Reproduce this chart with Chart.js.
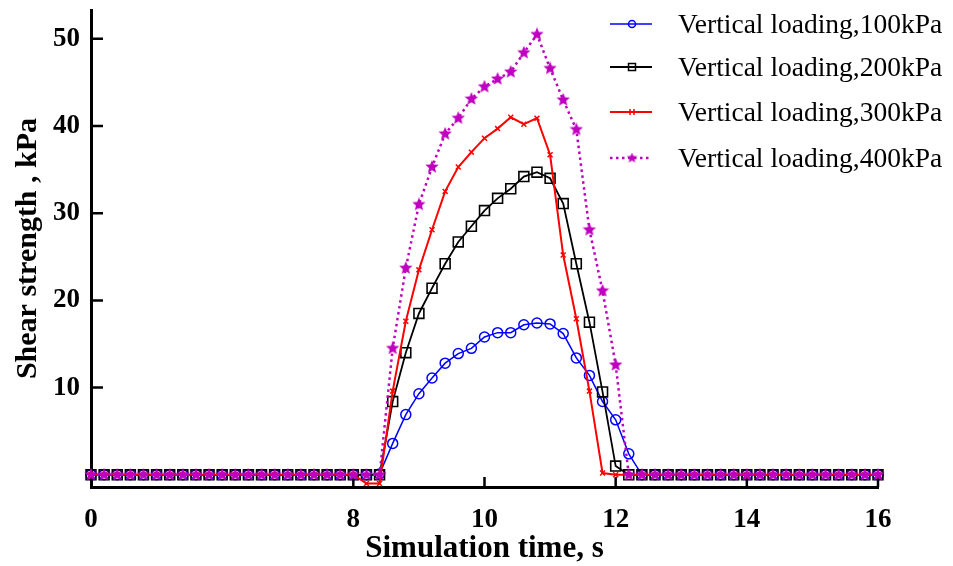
<!DOCTYPE html>
<html>
<head>
<meta charset="utf-8">
<script src="https://cdn.jsdelivr.net/npm/chart.js@4.4.1/dist/chart.umd.min.js"></script>
<style>
  html, body { margin: 0; padding: 0; background: #fff; }
  canvas { display: block; }
</style>
</head>
<body>
<canvas id="chart" width="953" height="566"></canvas>
<script>
const times = [0, 0.4, 0.8, 1.2, 1.6, 2, 2.4, 2.8, 3.2, 3.6, 4, 4.4, 4.8, 5.2, 5.6, 6, 6.4, 6.8, 7.2, 7.6, 8,
  8.2, 8.4, 8.6, 8.8, 9, 9.2, 9.4, 9.6, 9.8, 10, 10.2, 10.4, 10.6, 10.8, 11, 11.2, 11.4, 11.6, 11.8, 12,
  12.2, 12.4, 12.6, 12.8, 13, 13.2, 13.4, 13.6, 13.8, 14, 14.2, 14.4, 14.6, 14.8, 15, 15.2, 15.4, 15.6, 15.8, 16];

const load100 = [0, 0, 0, 0, 0, 0, 0, 0, 0, 0, 0, 0, 0, 0, 0, 0, 0, 0, 0, 0, 0,
  0, 0.1, 3.6, 6.9, 9.3, 11.1, 12.8, 13.9, 14.5, 15.8, 16.3, 16.3, 17.2, 17.4, 17.3, 16.2, 13.4, 11.4, 8.4, 6.3,
  2.4, 0, 0, 0, 0, 0, 0, 0, 0, 0, 0, 0, 0, 0, 0, 0, 0, 0, 0, 0];
const load200 = [0, 0, 0, 0, 0, 0, 0, 0, 0, 0, 0, 0, 0, 0, 0, 0, 0, 0, 0, 0, 0,
  0, 0, 8.4, 14.0, 18.5, 21.4, 24.2, 26.7, 28.5, 30.3, 31.7, 32.8, 34.2, 34.7, 34.0, 31.1, 24.2, 17.5, 9.5, 1.0,
  0, 0, 0, 0, 0, 0, 0, 0, 0, 0, 0, 0, 0, 0, 0, 0, 0, 0, 0, 0];
const load300 = [0, 0, 0, 0, 0, 0, 0, 0, 0, 0, 0, 0, 0, 0, 0, 0, 0, 0, 0, 0, 0,
  -1.0, -1.0, 9.6, 17.6, 23.5, 28.1, 32.5, 35.3, 37.0, 38.6, 39.7, 41.0, 40.2, 40.9, 36.7, 25.2, 17.9, 9.6, 0.2, 0,
  0, 0, 0, 0, 0, 0, 0, 0, 0, 0, 0, 0, 0, 0, 0, 0, 0, 0, 0, 0];
const load400 = [0, 0, 0, 0, 0, 0, 0, 0, 0, 0, 0, 0, 0, 0, 0, 0, 0, 0, 0, 0, 0,
  0, 0, 14.5, 23.7, 31.0, 35.3, 39.1, 40.9, 43.1, 44.5, 45.4, 46.2, 48.4, 50.5, 46.6, 43.0, 39.6, 28.1, 21.1, 12.6,
  0, 0, 0, 0, 0, 0, 0, 0, 0, 0, 0, 0, 0, 0, 0, 0, 0, 0, 0, 0];

const xTickLabels = [0, 8, 10, 12, 14, 16];
const yTickValues = [10, 20, 30, 40, 50];
const seriesNames = ['Vertical loading,100kPa', 'Vertical loading,200kPa', 'Vertical loading,300kPa', 'Vertical loading,400kPa'];

const PURPLE = '#bf00bf';
const SERIF = '"Liberation Serif", "Times New Roman", serif';

function makeStar(size, color) {
  const c = document.createElement('canvas');
  c.width = size;
  c.height = size;
  const g = c.getContext('2d');
  const R = size / 2, r = R * 0.45;
  g.beginPath();
  for (let k = 0; k < 10; k++) {
    const rad = k % 2 ? r : R;
    const a = -Math.PI / 2 + k * Math.PI / 5;
    g.lineTo(R + rad * Math.cos(a), R + rad * Math.sin(a));
  }
  g.closePath();
  g.fillStyle = color;
  g.fill();
  return c;
}
const star = makeStar(14, PURPLE);
const smallStar = makeStar(11, PURPLE);

// ticks pointing into the plot + the legend in the upper right
const overlay = {
  id: 'overlay',
  beforeDatasetsDraw(chart) {
    const ctx = chart.ctx, xs = chart.scales.x, ys = chart.scales.y, area = chart.chartArea;
    ctx.save();
    ctx.strokeStyle = '#000';
    ctx.lineWidth = 2.5;
    ctx.beginPath();
    xTickLabels.forEach(t => {
      if (t === 0) return;
      const px = xs.getPixelForValue(times.indexOf(t));
      ctx.moveTo(px, area.bottom);
      ctx.lineTo(px, area.bottom - 10);
    });
    yTickValues.forEach(v => {
      const py = ys.getPixelForValue(v);
      ctx.moveTo(area.left, py);
      ctx.lineTo(area.left + 12, py);
    });
    ctx.stroke();
    ctx.restore();
  },
  afterDraw(chart) {
    const ctx = chart.ctx;
    const rows = [24, 67, 112, 158];
    ctx.save();
    chart.data.datasets.forEach((ds, i) => {
      const y = rows[i];
      ctx.strokeStyle = ds.borderColor;
      ctx.lineWidth = ds.borderWidth;
      ctx.setLineDash(ds.borderDash || []);
      ctx.beginPath();
      ctx.moveTo(610, y);
      ctx.lineTo(652, y);
      ctx.stroke();
      ctx.setLineDash([]);
      ctx.lineWidth = 1.5;
      ctx.beginPath();
      if (ds.pointStyle === 'circle') {
        ctx.arc(632, y, 3.5, 0, Math.PI * 2);
        ctx.stroke();
      } else if (ds.pointStyle === 'rect') {
        ctx.strokeRect(628.5, y - 3.5, 7, 7);
      } else if (ds.pointStyle === 'crossRot') {
        ctx.moveTo(630, y - 3); ctx.lineTo(630, y + 3);
        ctx.moveTo(634, y - 3); ctx.lineTo(634, y + 3);
        ctx.stroke();
      } else {
        ctx.drawImage(smallStar, 632 - 5.5, y - 5.5);
      }
      ctx.fillStyle = '#000';
      ctx.font = '27.5px ' + SERIF;
      ctx.textBaseline = 'alphabetic';
      ctx.fillText(seriesNames[i], 678, y + 9);
    });
    ctx.restore();
  }
};

new Chart(document.getElementById('chart'), {
  type: 'line',
  data: {
    labels: times,
    datasets: [
      { label: seriesNames[0], data: load100, borderColor: '#0000ff', borderWidth: 1.5, pointStyle: 'circle',
        pointRadius: 5, pointBorderWidth: 1.5, pointBorderColor: '#0000ff', pointBackgroundColor: 'rgba(0,0,0,0)', order: 4 },
      { label: seriesNames[1], data: load200, borderColor: '#000000', borderWidth: 1.8, pointStyle: 'rect',
        pointRadius: 7, pointBorderWidth: 1.6, pointBorderColor: '#000000', pointBackgroundColor: 'rgba(0,0,0,0)', order: 3 },
      { label: seriesNames[2], data: load300, borderColor: '#ff0000', borderWidth: 2, pointStyle: 'crossRot',
        pointRadius: 3.5, pointBorderWidth: 1.5, pointBorderColor: '#ff0000', order: 2 },
      { label: seriesNames[3], data: load400, borderColor: PURPLE, borderWidth: 2.5, borderDash: [2.5, 3.5],
        pointStyle: star, pointRadius: 7, order: 1 }
    ]
  },
  options: {
    responsive: false,
    animation: false,
    events: [],
    layout: { padding: { top: 10, right: 75, left: 0, bottom: 0 } },
    plugins: { legend: { display: false }, tooltip: { enabled: false } },
    elements: { line: { tension: 0 } },
    scales: {
      x: {
        type: 'category',
        offset: false,
        grid: { drawOnChartArea: false, drawTicks: false },
        border: { display: true, color: '#000', width: 3 },
        ticks: {
          autoSkip: false,
          maxRotation: 0,
          padding: 17,
          color: '#000',
          font: { family: SERIF, size: 27, weight: 'bold' },
          callback: function (value) {
            const t = times[value];
            return xTickLabels.includes(t) ? String(t) : '';
          }
        },
        title: {
          display: true,
          text: 'Simulation time, s',
          color: '#000',
          font: { family: SERIF, size: 31, weight: 'bold', lineHeight: 1 },
          padding: { top: 0, bottom: 2 }
        },
        afterFit: scale => {
          scale.height = 79;
          scale.paddingLeft = 0;
          scale.paddingRight = 0;
        }
      },
      y: {
        min: -1.4,
        max: 53.3,
        grid: { drawOnChartArea: false, drawTicks: false },
        border: { display: true, color: '#000', width: 3 },
        afterBuildTicks: scale => { scale.ticks = yTickValues.map(v => ({ value: v })); },
        ticks: {
          padding: 11,
          color: '#000',
          font: { family: SERIF, size: 27, weight: 'bold' }
        },
        title: {
          display: true,
          text: 'Shear strength , kPa',
          color: '#000',
          font: { family: SERIF, size: 30, weight: 'bold' },
          padding: { top: 10, bottom: 0 }
        },
        afterFit: scale => {
          scale.width = 91;
          scale.paddingTop = 0;
          scale.paddingBottom = 0;
        }
      }
    }
  },
  plugins: [overlay]
});
</script>
</body>
</html>
